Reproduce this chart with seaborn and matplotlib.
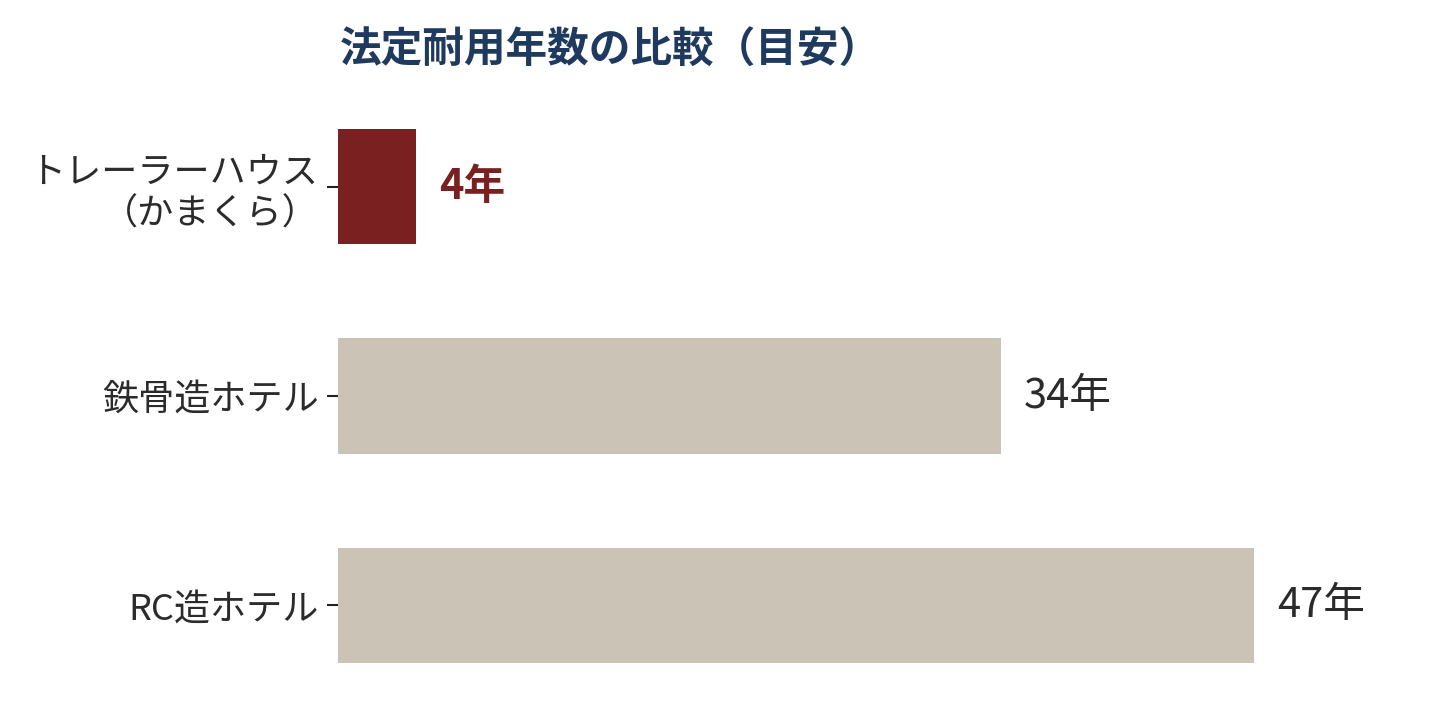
import matplotlib
matplotlib.use('Agg')
import matplotlib.pyplot as plt
import seaborn as sns
import pandas as pd

# データ
categories = ['トレーラーハウス\n（かまくら）', '鉄骨造ホテル', 'RC造ホテル']
years = [4, 34, 47]
value_labels = ['4年', '34年', '47年']
bar_colors = ['#7B2020', '#CBC3B6', '#CBC3B6']

sns.set_theme(style='white')
plt.rcParams['font.family'] = ['Noto Sans CJK JP', 'DejaVu Sans']

df = pd.DataFrame({'cat': categories, 'years': years})

fig = plt.figure(figsize=(14.4, 7.2), dpi=100)
ax = fig.add_axes([338 / 1440, 10 / 720, (1368 - 338) / 1440, (710 - 82) / 720])

sns.barplot(data=df, y='cat', x='years', hue='cat', palette=bar_colors,
            legend=False, width=0.55, saturation=1, linewidth=0, ax=ax)

ax.set_xlim(0, (1368 - 338) / ((1254 - 338) / 47))
ax.set_ylim(2.5, -0.5)
ax.set_xlabel('')
ax.set_ylabel('')
ax.set_xticks([])
sns.despine(ax=ax, left=True, bottom=True)
ax.tick_params(axis='y', length=8, width=1.5, color='#222222', pad=6,
               labelsize=26, labelcolor='#2b2b2b', left=True)
for lbl in ax.get_yticklabels():
    lbl.set_horizontalalignment('right')
    lbl.set_multialignment('right')

# 値ラベル
for i, (v, txt) in enumerate(zip(years, value_labels)):
    if i == 0:
        ax.text(v + 1.2, i, txt, va='center', ha='left', fontsize=30,
                fontweight='bold', color='#7B2020')
    else:
        ax.text(v + 1.2, i, txt, va='center', ha='left', fontsize=30,
                color='#2b2b2b')

fig.text(340 / 1440, 1 - 51 / 720, '法定耐用年数の比較（目安）', fontsize=30,
         fontweight='bold', color='#1F3A5F', ha='left', va='center')

plt.savefig('out.png', dpi=100)
plt.close()
